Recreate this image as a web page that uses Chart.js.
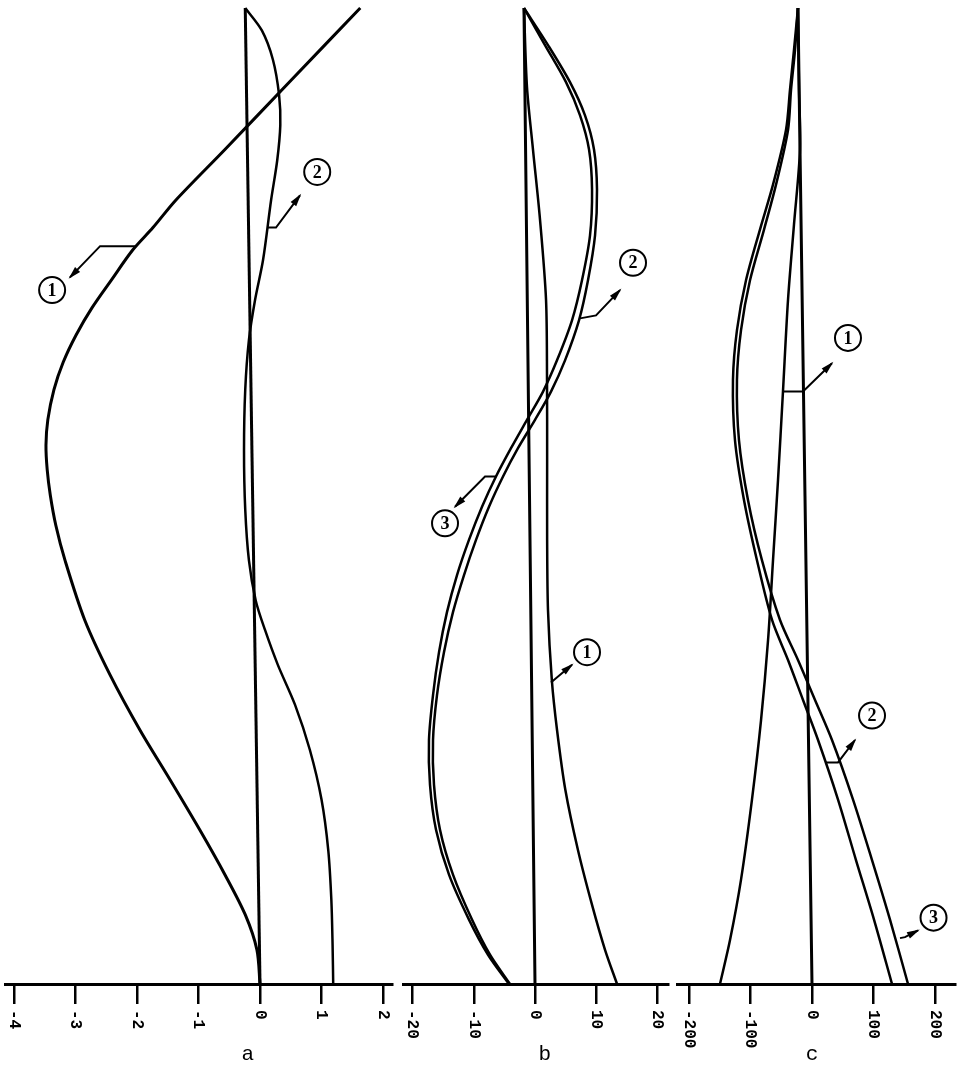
<!DOCTYPE html>
<html><head><meta charset="utf-8">
<script src="https://cdn.jsdelivr.net/npm/chart.js@4.4.1/dist/chart.umd.min.js"></script>
<style>
html,body{margin:0;background:#fff}
#fig{position:relative;width:957px;height:1069px}
#fig canvas{position:absolute;left:0;top:0}
</style></head><body>
<div id="fig">
  <canvas id="ca" width="957" height="1069"></canvas>
  <canvas id="cb" width="957" height="1069"></canvas>
  <canvas id="cc" width="957" height="1069"></canvas>
</div>
<script>
/* three deflection panels; y = relative height (0 bottom .. 1 top), x = value on panel axis */

// panel a
const aRefX=[-0.24,0], aRefH=[1,0];
const a1H=[0,0.035,0.071,0.112,0.158,0.209,0.260,0.317,0.373,0.434,0.470,0.501,0.527,0.552,0.578,0.609,0.637,0.665,0.693,0.721,0.752,0.775,0.803,0.855,0.925,1.0];
const a1X=[0,-0.05,-0.24,-0.57,-0.98,-1.46,-1.95,-2.44,-2.85,-3.17,-3.32,-3.41,-3.46,-3.48,-3.45,-3.35,-3.20,-2.99,-2.73,-2.42,-2.07,-1.74,-1.37,-0.57,0.49,1.63];
const a2H=[1.0,0.977,0.947,0.911,0.880,0.844,0.803,0.742,0.701,0.660,0.609,0.547,0.486,0.434,0.393,0.363,0.327,0.286,0.240,0.189,0.137,0.086,0.040,0];
const a2X=[-0.24,0.03,0.21,0.31,0.33,0.28,0.18,0.05,-0.08,-0.18,-0.24,-0.26,-0.24,-0.18,-0.07,0.08,0.29,0.57,0.81,1.00,1.11,1.16,1.18,1.19];

// panel b
const bRefX=[-1.80,0], bRefH=[1,0];
const b1H=[1.0,0.919,0.855,0.783,0.701,0.619,0.537,0.455,0.383,0.311,0.260,0.199,0.137,0.081,0.035,0];
const b1X=[-1.80,-1.31,-0.33,0.82,1.80,1.96,1.98,1.98,2.12,2.75,3.60,4.95,7.02,9.31,11.43,13.39];
const bH=[1.0,0.962,0.924,0.890,0.855,0.814,0.767,0.721,0.680,0.639,0.607,0.578,0.549,0.520,0.489,0.455,0.419,0.381,0.340,0.296,0.250,0.204,0.158,0.112,0.066,0.030,0];
const b2X=[-1.80,2.12,5.71,8.16,9.63,10.12,9.80,8.65,7.18,4.90,2.61,0,-2.78,-5.22,-7.51,-9.63,-11.59,-13.39,-14.86,-16.00,-16.65,-16.49,-15.51,-13.39,-10.29,-7.35,-4.08];
const b3X=[-1.80,1.63,5.06,7.35,8.82,9.31,8.98,7.67,6.04,3.59,1.31,-1.31,-3.92,-6.37,-8.65,-10.78,-12.73,-14.37,-15.67,-16.65,-17.31,-17.14,-16.16,-14.04,-10.78,-7.67,-4.24];

// panel c
const cRefX=[-22.8,0], cRefH=[1,0];
const c1H=[1.0,0.916,0.855,0.778,0.701,0.607,0.516,0.434,0.352,0.270,0.189,0.107,0.045,0];
const c1X=[-22.8,-21.1,-19.5,-29.3,-39.0,-47.2,-55.3,-63.4,-71.5,-82.9,-97.6,-115.4,-133.3,-149.6];
const cH=[1.0,0.957,0.916,0.875,0.819,0.773,0.721,0.670,0.619,0.557,0.496,0.434,0.373,0.332,0.291,0.250,0.189,0.127,0.066,0];
const c2X=[-22.8,-29.3,-35.8,-42.3,-63.4,-84.6,-107.3,-122.0,-128.5,-125.2,-110.6,-89.4,-65.0,-39.0,-14.6,9.8,42.3,71.5,100.8,130.1];
const c3X=[-22.8,-27.6,-34.1,-39.0,-58.5,-78.0,-100.8,-115.4,-122.0,-118.7,-104.1,-81.3,-52.0,-22.8,4.9,32.5,66.7,97.6,126.8,156.1];

// circled labels: [text, circle x,h, arrow tip x,h, elbow x,h, attach x,h]
const aNotes=[['1',-3.38,0.711,-3.09,0.724,-2.60,0.756,-2.03,0.756],
              ['2',0.93,0.832,0.65,0.808,0.26,0.775,0.13,0.775]];
const bNotes=[['2',16.0,0.739,13.88,0.711,9.96,0.685,7.35,0.682],
              ['3',-14.69,0.472,-13.06,0.489,-8.16,0.520,-6.37,0.520],
              ['1',8.49,0.340,6.04,0.327,2.60,0.309,2.60,0.309]];
const cNotes=[['1',58.5,0.662,32.5,0.636,-14.6,0.607,-48.8,0.607],
              ['2',97.6,0.275,69.9,0.250,42.3,0.227,22.8,0.227],
              ['3',197.6,0.068,172.4,0.055,151.2,0.048,143.1,0.047]];

const mk=(xs,hs)=>xs.map((x,i)=>({x,y:hs[i]}));

function figPlugin(notes,letter,letterAt){
  return {id:'fig',afterDraw(c){
    const {ctx}=c, x=c.scales.x, y=c.scales.y, by=c.chartArea.bottom;
    const P=(vx,vh)=>[x.getPixelForValue(vx),y.getPixelForValue(vh)];
    ctx.save(); ctx.fillStyle='#000'; ctx.strokeStyle='#000';
    // rotated tick labels (reading top to bottom)
    ctx.font='bold 16px "Liberation Mono", monospace'; ctx.textAlign='left'; ctx.textBaseline='middle';
    x.ticks.forEach(t=>{ctx.save();ctx.translate(x.getPixelForValue(t.value),by+26);ctx.rotate(Math.PI/2);ctx.fillText(String(t.value),0,0);ctx.restore();});
    ctx.font='21px "Liberation Mono", monospace'; ctx.textAlign='center';
    ctx.fillText(letter,x.getPixelForValue(letterAt),by+70);
    // leaders + circled numbers
    notes.forEach(n=>{
      const cc=P(n[1],n[2]), tip=P(n[3],n[4]), el=P(n[5],n[6]), at=P(n[7],n[8]);
      ctx.lineWidth=2; ctx.beginPath(); ctx.moveTo(at[0],at[1]); ctx.lineTo(el[0],el[1]); ctx.lineTo(tip[0],tip[1]); ctx.stroke();
      const a=Math.atan2(tip[1]-el[1],tip[0]-el[0]);
      ctx.save(); ctx.translate(tip[0],tip[1]); ctx.rotate(a);
      ctx.beginPath(); ctx.moveTo(2,0); ctx.lineTo(-11,-3.5); ctx.lineTo(-11,3.5); ctx.closePath(); ctx.fill(); ctx.restore();
      ctx.lineWidth=2; ctx.beginPath(); ctx.arc(cc[0],cc[1],13,0,Math.PI*2); ctx.stroke();
      ctx.font='bold 18px "Liberation Serif", serif'; ctx.textBaseline='middle';
      ctx.fillText(n[0],cc[0],cc[1]+1);
    });
    ctx.restore();
  }};
}

function panel(id,pad,xr,step,sets,notes,letter,letterAt){
  const ds=sets.map(([xs,hs,w])=>({data:mk(xs,hs),showLine:true,pointRadius:0,borderColor:'#000',borderWidth:w||2.5,tension:.3,clip:false}));
  return new Chart(document.getElementById(id),{type:'scatter',data:{datasets:ds},
    options:{responsive:false,animation:false,events:[],
      layout:{padding:{left:pad[0],right:pad[1],top:8,bottom:0}},
      plugins:{legend:{display:false},tooltip:{enabled:false}},
      scales:{
        x:{type:'linear',min:xr[0],max:xr[1],afterFit:s=>{s.height=85;},
           ticks:{display:false,stepSize:step,includeBounds:false},
           grid:{drawOnChartArea:false,drawTicks:true,tickLength:20,color:'#000',lineWidth:2.5},
           border:{display:true,color:'#000',width:3}},
        y:{display:false,min:0,max:1}}},
    plugins:[figPlugin(notes,letter,letterAt)]});
}

panel('ca',[5,565],[-4.146,2.146],1,[[aRefX,aRefH,3],[a1X,a1H,3],[a2X,a2H,2.5]],aNotes,'a',-0.2);
panel('cb',[403,289],[-21.55,21.71],10,[[bRefX,bRefH,3],[b1X,b1H,2.5],[b2X,bH,2.5],[b3X,bH,2.5]],bNotes,'b',1.6);
panel('cc',[677,2],[-219.5,232.5],100,[[cRefX,cRefH,3],[c1X,c1H,2.5],[c2X,cH,2.5],[c3X,cH,2.5]],cNotes,'c',0);
</script>
</body></html>
